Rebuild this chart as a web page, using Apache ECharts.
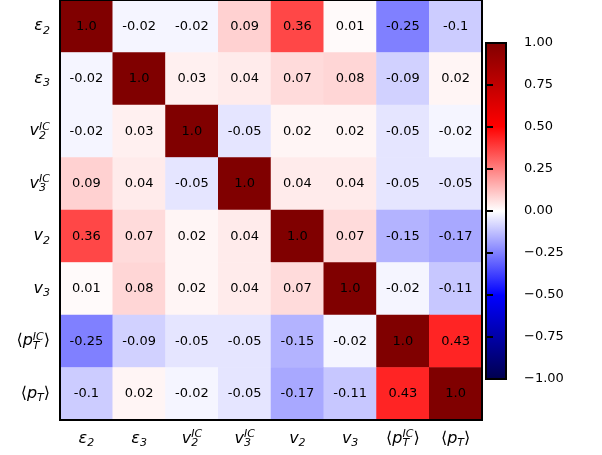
<!DOCTYPE html>
<html><head><meta charset="utf-8">
<script src="https://cdn.jsdelivr.net/npm/echarts@6/dist/echarts.min.js"></script>
<style>html,body{margin:0;padding:0;background:#fff}#c{width:602px;height:455px}</style>
</head><body><div id="c"></div>
<script>
var categories = ['{m|ε}{s|2}', '{m|ε}{s|3}', '{m|v}{sz|2}{p|IC}', '{m|v}{sz|3}{p|IC}', '{m|v}{s|2}', '{m|v}{s|3}', '{n|⟨}{m|p}{sz|T}{p|IC}{n|⟩}', '{n|⟨}{m|p}{s|T}{n|⟩}'];
var row_eps2  = [1.0, -0.02, -0.02, 0.09, 0.36, 0.01, -0.25, -0.1];
var row_eps3  = [-0.02, 1.0, 0.03, 0.04, 0.07, 0.08, -0.09, 0.02];
var row_v2IC  = [-0.02, 0.03, 1.0, -0.05, 0.02, 0.02, -0.05, -0.02];
var row_v3IC  = [0.09, 0.04, -0.05, 1.0, 0.04, 0.04, -0.05, -0.05];
var row_v2    = [0.36, 0.07, 0.02, 0.04, 1.0, 0.07, -0.15, -0.17];
var row_v3    = [0.01, 0.08, 0.02, 0.04, 0.07, 1.0, -0.02, -0.11];
var row_pTIC  = [-0.25, -0.09, -0.05, -0.05, -0.15, -0.02, 1.0, 0.43];
var row_pT    = [-0.1, 0.02, -0.02, -0.05, -0.17, -0.11, 0.43, 1.0];
var colorbarTicks = [-1, -0.75, -0.5, -0.25, 0, 0.25, 0.5, 0.75, 1];
var seismic = ['#00004c', '#0000ff', '#ffffff', '#ff0000', '#800000'];

var rows = [row_eps2, row_eps3, row_v2IC, row_v3IC, row_v2, row_v3, row_pTIC, row_pT];
var data = [];
rows.forEach(function (r, yi) { r.forEach(function (v, xi) { data.push([xi, yi, v]); }); });

var F = 'DejaVu Sans';
var rich = {
  m: {fontFamily: F, fontStyle: 'italic', fontSize: 16, color: '#000', lineHeight: 20, align: 'left'},
  n: {fontFamily: F, fontSize: 16, color: '#000', lineHeight: 20, align: 'left'},
  s: {fontFamily: F, fontStyle: 'italic', fontSize: 11, color: '#000', verticalAlign: 'bottom', lineHeight: 8, align: 'left'},
  sz: {fontFamily: F, fontStyle: 'italic', fontSize: 11, color: '#000', verticalAlign: 'bottom', lineHeight: 8, width: 0, align: 'left'},
  p: {fontFamily: F, fontStyle: 'italic', fontSize: 11, color: '#000', verticalAlign: 'top', lineHeight: 8, align: 'left'}
};

var chart = echarts.init(document.getElementById('c'));
chart.setOption({
  animation: false,
  grid: [
    {left: 60, top: 0, width: 422, height: 420, show: true, borderColor: '#000', borderWidth: 2, backgroundColor: 'transparent', z: 5},
    {left: 486, top: 43, width: 20, height: 336, show: true, borderColor: '#000', borderWidth: 2,
     backgroundColor: {type: 'linear', x: 0, y: 0, x2: 0, y2: 1, colorStops: [
       {offset: 0, color: seismic[4]}, {offset: 0.25, color: seismic[3]}, {offset: 0.5, color: seismic[2]},
       {offset: 0.75, color: seismic[1]}, {offset: 1, color: seismic[0]}]}}
  ],
  xAxis: [
    {type: 'category', data: categories, gridIndex: 0, axisLine: {show: false}, axisTick: {show: false}, splitLine: {show: false},
     axisLabel: {margin: 9, rich: rich, interval: 0}},
    {type: 'value', gridIndex: 1, show: false}
  ],
  yAxis: [
    {type: 'category', data: categories, inverse: true, gridIndex: 0, axisLine: {show: false}, axisTick: {show: false}, splitLine: {show: false},
     axisLabel: {margin: 10, rich: rich, interval: 0}},
    {type: 'value', gridIndex: 1, position: 'right', min: -1, max: 1, interval: 0.25,
     axisLine: {show: false}, splitLine: {show: false},
     axisTick: {show: true, inside: false, length: 7, lineStyle: {color: '#000', width: 2}},
     axisLabel: {margin: 18, fontFamily: F, fontSize: 13, color: '#000',
       formatter: function (v) { return (v < 0 ? '\u2212' : '') + Math.abs(v).toFixed(2); }}}
  ],
  visualMap: {show: false, min: -1, max: 1, seriesIndex: 0, inRange: {color: seismic}},
  series: [{
    type: 'heatmap', xAxisIndex: 0, yAxisIndex: 0, data: data,
    label: {show: true, fontFamily: F, fontSize: 13, color: '#000',
      formatter: function (p) { var v = p.value[2]; return v === 1 ? '1.0' : String(v); }},
    itemStyle: {borderWidth: 0},
    emphasis: {disabled: true}
  }]
});
</script></body></html>
